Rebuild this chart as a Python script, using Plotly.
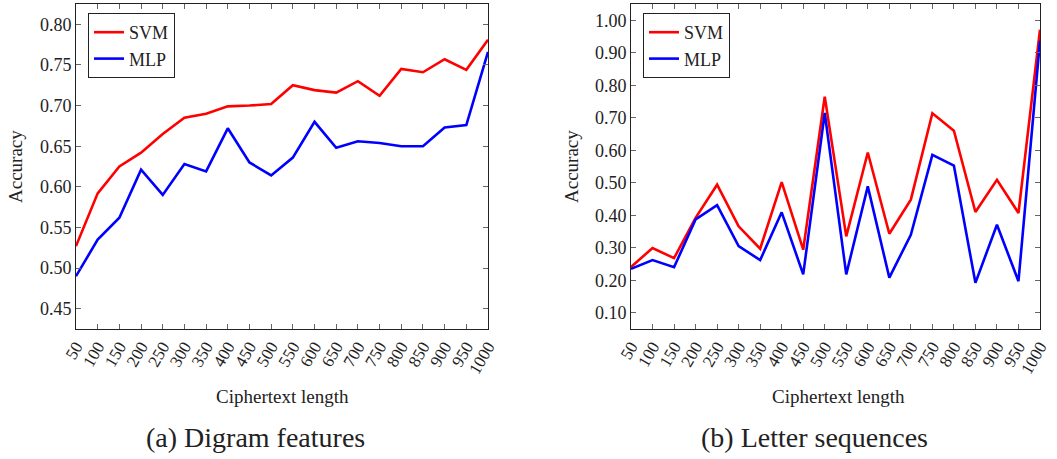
import plotly.graph_objects as go

# ---- data ----
lengths = [50, 100, 150, 200, 250, 300, 350, 400, 450, 500,
           550, 600, 650, 700, 750, 800, 850, 900, 950, 1000]
length_labels = [str(v) for v in lengths]

digram_svm = [0.527, 0.592, 0.625, 0.642, 0.665, 0.685, 0.690, 0.699, 0.700, 0.702,
              0.725, 0.719, 0.716, 0.730, 0.712, 0.745, 0.741, 0.757, 0.744, 0.781]
digram_mlp = [0.490, 0.535, 0.562, 0.621, 0.590, 0.628, 0.619, 0.672, 0.630, 0.614,
              0.636, 0.680, 0.648, 0.656, 0.654, 0.650, 0.650, 0.673, 0.676, 0.766]

letter_svm = [0.241, 0.299, 0.268, 0.392, 0.494, 0.366, 0.297, 0.502, 0.294, 0.765,
              0.335, 0.593, 0.343, 0.448, 0.714, 0.660, 0.410, 0.509, 0.407, 0.971]
letter_mlp = [0.235, 0.262, 0.240, 0.387, 0.431, 0.305, 0.262, 0.409, 0.218, 0.715,
              0.218, 0.489, 0.208, 0.340, 0.586, 0.553, 0.192, 0.371, 0.197, 0.937]

series_names = ["SVM", "MLP"]
series_colors = ["#ff0000", "#0000ff"]

left_ticks = [0.45, 0.50, 0.55, 0.60, 0.65, 0.70, 0.75, 0.80]
right_ticks = [0.10, 0.20, 0.30, 0.40, 0.50, 0.60, 0.70, 0.80, 0.90, 1.00]

axis_title_y = "Accuracy"
axis_title_x = "Ciphertext length"
captions = ["(a) Digram features", "(b) Letter sequences"]

# ---- figure ----
W, H = 1057, 459
FONT = "Liberation Serif"
TXT = "#222"

fig = go.Figure()

for name, color, ys in zip(series_names, series_colors, [digram_svm, digram_mlp]):
    fig.add_trace(go.Scatter(x=lengths, y=ys, mode="lines", name=name,
                             line=dict(color=color, width=2.6),
                             xaxis="x", yaxis="y", legend="legend"))
for name, color, ys in zip(series_names, series_colors, [letter_svm, letter_mlp]):
    fig.add_trace(go.Scatter(x=lengths, y=ys, mode="lines", name=name,
                             line=dict(color=color, width=2.6),
                             xaxis="x2", yaxis="y2", legend="legend2"))

def px_x(p):
    return p / W

def px_y(p):
    return 1 - p / H

common_axis = dict(showline=True, mirror="ticks", linecolor="#222", linewidth=1,
                   ticks="inside", ticklen=5, tickcolor="#666", tickwidth=1,
                   showgrid=False, zeroline=False, automargin=False)

xcommon = dict(common_axis, tickmode="array", tickvals=lengths, ticktext=length_labels,
               tickangle=-60, range=[50, 1000],
               tickfont=dict(family=FONT, size=17, color=TXT))

legend_style = dict(xanchor="left", yanchor="top",
                    bgcolor="white", bordercolor="#222", borderwidth=1,
                    font=dict(family=FONT, size=18, color=TXT),
                    itemwidth=30, tracegroupgap=0)

fig.update_layout(
    width=W, height=H,
    margin=dict(l=0, r=0, t=0, b=0, autoexpand=False),
    paper_bgcolor="white", plot_bgcolor="white",
    font=dict(family=FONT, size=18, color=TXT),
    xaxis=dict(xcommon, domain=[px_x(76), px_x(488)], anchor="y"),
    yaxis=dict(common_axis, domain=[px_y(329), px_y(4)], anchor="x",
               range=[0.425, 0.825], tickmode="array", tickvals=left_ticks,
               tickformat=".2f", tickfont=dict(family=FONT, size=18, color=TXT)),
    xaxis2=dict(xcommon, domain=[px_x(631), px_x(1040)], anchor="y2"),
    yaxis2=dict(common_axis, domain=[px_y(329), px_y(4)], anchor="x2",
                range=[0.05, 1.05], tickmode="array", tickvals=right_ticks,
                tickformat=".2f", tickfont=dict(family=FONT, size=18, color=TXT)),
    legend=dict(legend_style, x=px_x(88), y=px_y(13)),
    legend2=dict(legend_style, x=px_x(643), y=px_y(13)),
    showlegend=True,
)

ann = []
for cx in [15, 571]:
    ann.append(dict(text=axis_title_y, x=px_x(cx), y=px_y(167), xref="paper", yref="paper",
                    xanchor="center", yanchor="middle",
                    showarrow=False, textangle=-90, font=dict(family=FONT, size=19, color=TXT)))
for cx in [282, 838]:
    ann.append(dict(text=axis_title_x, x=px_x(cx), y=px_y(396), xref="paper", yref="paper",
                    xanchor="center", yanchor="middle",
                    showarrow=False, font=dict(family=FONT, size=19, color=TXT)))
for cx, cap in zip([255, 814], captions):
    ann.append(dict(text=cap, x=px_x(cx), y=px_y(437), xref="paper", yref="paper",
                    xanchor="center", yanchor="middle",
                    showarrow=False, font=dict(family=FONT, size=28, color=TXT)))
fig.update_layout(annotations=ann)

fig.write_html("out.html", config={"displayModeBar": False},
               post_script="document.body.style.margin='0';")
